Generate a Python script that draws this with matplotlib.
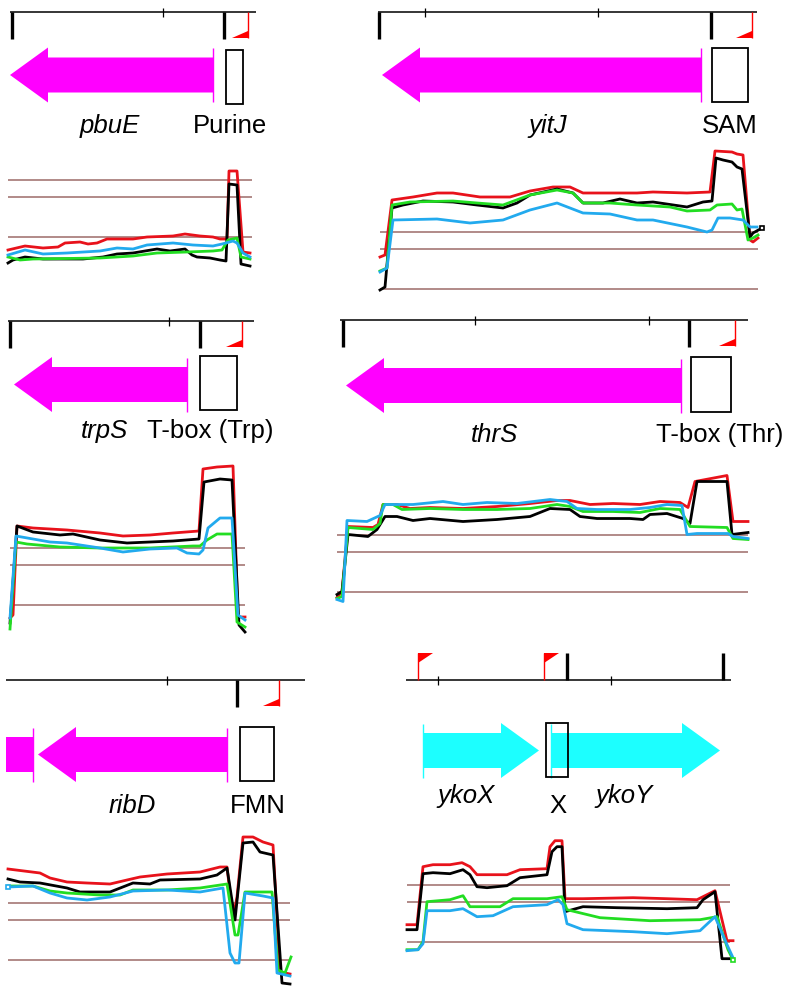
import matplotlib
matplotlib.use('Agg')
import matplotlib.pyplot as plt
from matplotlib.patches import FancyArrow, Rectangle, Polygon

FIG_W, FIG_H = 793, 992

# reference levels drawn in every coverage track
ref_levels = [0, 40, 57]
trace_colors = ['#e8121b', '#000000', '#22dd22', '#22aaee']

# ---- coverage traces: (position bin, signal) ----
pbue_red = [(8, -13), (25, -9), (43, -11), (58, -10), (65, -6), (80, -5), (88, -7), (97, -6), (107, -2),
            (133, -2), (147, 0), (173, 1), (185, 3), (200, 1), (213, 0), (220, -2), (227, -2), (229, 66),
            (237, 66), (243, -15), (250, -16)]
pbue_black = [(8, -26), (13, -23), (25, -20), (43, -22), (83, -22), (103, -20), (117, -17), (133, -16),
              (157, -12), (170, -14), (185, -12), (192, -18), (197, -20), (210, -21), (220, -23), (226, -24),
              (229, 53), (237, 52), (241, -27), (250, -29)]
pbue_green = [(8, -20), (20, -23), (33, -22), (100, -21), (133, -19), (157, -16), (187, -15), (213, -14),
              (222, -13), (228, -3), (237, -1), (241, -20), (250, -22)]
pbue_blue = [(8, -18), (25, -13), (43, -17), (67, -16), (100, -14), (117, -11), (133, -12), (147, -8),
             (173, -6), (193, -8), (213, -9), (222, -7), (233, -4), (237, -6), (243, -16), (250, -20)]

yitj_red = [(10, 32), (15, 34), (22, 89), (43, 92), (67, 96), (83, 96), (110, 92), (140, 92), (160, 98),
            (183, 102), (200, 102), (213, 96), (240, 96), (267, 96), (283, 97), (317, 96), (340, 97),
            (345, 138), (362, 137), (367, 135), (373, 134), (380, 49), (383, 47), (388, 51)]
yitj_black = [(10, -1), (15, 2), (22, 81), (33, 84), (53, 88), (83, 87), (107, 84), (133, 81), (147, 86),
              (160, 94), (187, 100), (203, 96), (213, 86), (233, 86), (250, 90), (267, 86), (283, 87),
              (317, 82), (333, 87), (342, 88), (346, 131), (353, 129), (362, 127), (367, 122), (372, 120),
              (380, 52), (383, 56), (392, 61)]
yitj_green = [(10, 18), (17, 21), (22, 84), (40, 87), (83, 88), (107, 86), (133, 84), (160, 94), (187, 99),
              (203, 96), (213, 86), (240, 86), (267, 84), (300, 82), (317, 78), (340, 79), (347, 84),
              (362, 85), (367, 79), (372, 80), (378, 49), (383, 51), (388, 54)]
yitj_blue = [(10, 17), (17, 21), (23, 69), (67, 70), (100, 66), (133, 69), (160, 79), (187, 86), (213, 76),
             (240, 75), (267, 69), (283, 69), (317, 62), (337, 57), (342, 59), (348, 71), (360, 71),
             (373, 69), (380, 62), (387, 62)]

trps_red = [(10, -13), (13, -10), (17, 79), (33, 77), (67, 75), (100, 72), (123, 69), (150, 70), (173, 72),
            (199, 74), (203, 136), (217, 138), (233, 139), (238, -12), (245, -12)]
trps_black = [(10, -18), (17, 79), (33, 73), (60, 70), (73, 71), (100, 65), (127, 62), (150, 63), (173, 64),
              (199, 66), (204, 123), (220, 126), (232, 125), (239, -20), (245, -27)]
trps_green = [(10, -24), (16, 63), (27, 61), (60, 58), (100, 57), (150, 57), (193, 59), (200, 59), (207, 65),
              (217, 71), (232, 71), (237, -17), (245, -22)]
trps_blue = [(10, -13), (16, 69), (33, 66), (50, 63), (67, 62), (100, 57), (123, 53), (150, 56), (177, 57),
             (187, 52), (199, 51), (203, 55), (208, 77), (220, 87), (232, 87), (238, -10), (245, -15)]

thrs_red = [(7, -6), (12, 0), (18, 65), (43, 64), (48, 67), (53, 87), (67, 87), (80, 83), (100, 84),
            (133, 83), (167, 85), (200, 88), (227, 91), (240, 91), (260, 87), (283, 88), (310, 87),
            (330, 90), (350, 89), (358, 84), (365, 110), (397, 116), (403, 70), (418, 70)]
thrs_black = [(7, -3), (12, 0), (18, 57), (38, 55), (47, 62), (55, 75), (67, 75), (83, 71), (100, 73),
              (133, 70), (167, 72), (200, 75), (220, 83), (240, 82), (250, 75), (267, 73), (300, 73),
              (313, 72), (320, 77), (337, 78), (353, 73), (360, 68), (367, 110), (397, 110), (402, 57),
              (418, 59)]
thrs_green = [(7, -7), (12, -5), (18, 64), (43, 62), (50, 68), (53, 87), (63, 87), (72, 82), (100, 83),
              (133, 82), (167, 82), (200, 83), (227, 87), (240, 85), (253, 80), (283, 80), (310, 79),
              (330, 83), (350, 82), (360, 65), (397, 64), (403, 53), (418, 52)]
thrs_blue = [(7, -8), (13, -10), (17, 71), (37, 70), (50, 76), (55, 87), (83, 87), (113, 90), (133, 87),
             (157, 89), (187, 88), (220, 92), (237, 90), (247, 83), (267, 82), (300, 82), (320, 84),
             (337, 87), (352, 86), (357, 57), (367, 58), (398, 58), (403, 55), (418, 53)]

ribd_red = [(8, 91), (40, 87), (50, 82), (67, 78), (87, 77), (110, 76), (127, 80), (140, 83), (167, 86),
            (200, 88), (220, 93), (227, 93), (233, 42), (237, 63), (243, 123), (253, 123), (263, 118),
            (273, 115), (280, -12), (290, -14)]
ribd_black = [(8, 81), (20, 78), (40, 77), (67, 72), (80, 68), (110, 68), (133, 77), (150, 76), (160, 80),
              (200, 81), (217, 85), (227, 92), (235, 40), (243, 117), (253, 118), (260, 108), (273, 105),
              (282, -23), (290, -24)]
ribd_green = [(8, 74), (33, 74), (50, 69), (67, 67), (100, 65), (120, 65), (133, 70), (167, 70), (200, 72),
              (227, 76), (235, 25), (238, 25), (245, 68), (272, 68), (278, -10), (285, -13), (291, 3)]
ribd_blue = [(8, 73), (33, 74), (50, 67), (67, 62), (87, 60), (110, 63), (133, 69), (167, 70), (200, 68),
             (223, 72), (230, 7), (235, -3), (239, -3), (245, 67), (263, 64), (273, 62), (277, -13), (290, -16)]

ykox_red = [(12, 17), (22, 17), (28, 75), (38, 77), (55, 77), (67, 79), (75, 75), (82, 67), (112, 67),
            (125, 72), (152, 73), (155, 95), (160, 101), (167, 101), (170, 43), (188, 43), (238, 44),
            (272, 43), (302, 42), (312, 47), (320, 51), (332, 1), (338, 1)]
ykox_black = [(12, 12), (22, 12), (28, 68), (38, 69), (55, 68), (68, 72), (75, 67), (82, 55), (92, 54),
              (112, 56), (125, 64), (152, 67), (157, 90), (162, 95), (167, 95), (170, 30), (188, 35),
              (222, 34), (272, 33), (302, 34), (308, 42), (320, 50), (327, -17), (335, -17)]
ykox_green = [(12, -8), (23, -8), (28, 0), (32, 40), (55, 42), (68, 46), (75, 35), (105, 35), (118, 43),
              (152, 43), (167, 45), (172, 32), (205, 24), (255, 21), (305, 22), (322, 25), (333, -8), (338, -18)]
ykox_blue = [(12, -9), (23, -8), (28, -2), (32, 31), (55, 31), (68, 33), (82, 25), (98, 26), (118, 35),
             (152, 37), (163, 42), (168, 37), (172, 18), (188, 12), (238, 10), (272, 8), (305, 11),
             (320, 25), (332, -3), (338, -16)]

# ---- gene maps (same bin units) ----
# genes: (start, end); start > end means leftward
pbue_genes, pbue_box, pbue_axis = [(213, 10)], (226, 243), (10, 256)
pbue_major, pbue_minor, pbue_flags = [12, 224], [163], [248]
yitj_genes, yitj_box, yitj_axis = [(331, 12)], (342, 378), (8, 387)
yitj_major, yitj_minor, yitj_flags = [9, 341], [55, 228], [382]
trps_genes, trps_box, trps_axis = [(187, 14)], (200, 237), (8, 254)
trps_major, trps_minor, trps_flags = [10, 200], [169], [242]
thrs_genes, thrs_box, thrs_axis = [(351, 16)], (361, 401), (10, 418)
thrs_major, thrs_minor, thrs_flags = [13, 359], [145, 319], [405]
ribd_genes, ribd_box, ribd_axis = [(227, 38)], (240, 274), (6, 305)
ribd_fragments = [(33, 6)]
ribd_major, ribd_minor, ribd_flags = [237], [167], [279]
ykox_genes, ykox_box, ykox_axis = [(28, 144), (156, 325)], (151, 173), (11, 336)
ykox_major, ykox_minor, ykox_flags = [172, 328], [43, 216], [23, 149]

pbue_labels = [('pbuE', 110, True), ('Purine', 230, False)]
yitj_labels = [('yitJ', 178, True), ('SAM', 360, False)]
trps_labels = [('trpS', 104, True), ('T-box (Trp)', 210, False)]
thrs_labels = [('thrS', 164, True), ('T-box (Thr)', 390, False)]
ribd_labels = [('ribD', 132, True), ('FMN', 258, False)]
ykox_labels = [('ykoX', 71, True), ('X', 163, False), ('ykoY', 229, True)]

MAGENTA = '#ff00ff'
CYAN = '#1cffff'
BROWN = '#9c6b68'

# layout of each panel in pixels
panels = [
    dict(left=0, width=265, top=0, height=150, line_y=12, arrow_y=75, box_y=(50, 104), text_y=133, text_dy=[0, 0],
         down=True, color=MAGENTA, genes=pbue_genes, frags=[], box=pbue_box, axis=pbue_axis,
         major=pbue_major, minor=pbue_minor, flags=pbue_flags, labels=pbue_labels,
         ttop=160, theight=120, base=237, ref=(8, 252), traces=[pbue_red, pbue_black, pbue_green, pbue_blue]),
    dict(left=370, width=400, top=0, height=150, line_y=12, arrow_y=75, box_y=(48, 102), text_y=133, text_dy=[0, 0],
         down=True, color=MAGENTA, genes=yitj_genes, frags=[], box=yitj_box, axis=yitj_axis,
         major=yitj_major, minor=yitj_minor, flags=yitj_flags, labels=yitj_labels,
         ttop=140, theight=160, base=289, ref=(10, 388), traces=[yitj_red, yitj_black, yitj_green, yitj_blue]),
    dict(left=0, width=265, top=309, height=145, line_y=12, arrow_y=75.5, box_y=(47, 101), text_y=129, text_dy=[0, 0],
         down=True, color=MAGENTA, genes=trps_genes, frags=[], box=trps_box, axis=trps_axis,
         major=trps_major, minor=trps_minor, flags=trps_flags, labels=trps_labels,
         ttop=455, theight=180, base=605, ref=(10, 245), traces=[trps_red, trps_black, trps_green, trps_blue]),
    dict(left=330, width=460, top=308, height=145, line_y=12, arrow_y=77.5, box_y=(49, 104), text_y=134, text_dy=[0, 0],
         down=True, color=MAGENTA, genes=thrs_genes, frags=[], box=thrs_box, axis=thrs_axis,
         major=thrs_major, minor=thrs_minor, flags=thrs_flags, labels=thrs_labels,
         ttop=465, theight=140, base=591.5, ref=(7, 418), traces=[thrs_red, thrs_black, thrs_green, thrs_blue]),
    dict(left=0, width=310, top=668, height=155, line_y=12, arrow_y=86.5, box_y=(59, 113), text_y=145, text_dy=[0, 0],
         down=True, color=MAGENTA, genes=ribd_genes, frags=ribd_fragments, box=ribd_box, axis=ribd_axis,
         major=ribd_major, minor=ribd_minor, flags=ribd_flags, labels=ribd_labels,
         ttop=830, theight=162, base=960, ref=(8, 290), traces=[ribd_red, ribd_black, ribd_green, ribd_blue]),
    dict(left=395, width=345, top=640, height=185, line_y=40, arrow_y=110.5, box_y=(83, 137), text_y=163, text_dy=[0, 10, 0],
         down=False, color=CYAN, genes=ykox_genes, frags=[], box=ykox_box, axis=ykox_axis,
         major=ykox_major, minor=ykox_minor, flags=ykox_flags, labels=ykox_labels,
         ttop=835, theight=135, base=941.7, ref=(12, 335), traces=[ykox_red, ykox_black, ykox_green, ykox_blue]),
]

# small open squares at some trace ends: (panel, trace, point)
end_marks = [(1, 1, -1), (4, 3, 0), (5, 2, -1)]

plt.rcParams['font.family'] = ['Liberation Sans', 'DejaVu Sans']
fig = plt.figure(figsize=(FIG_W / 100, FIG_H / 100), dpi=100)
fig.patch.set_facecolor('white')


def px_axes(left, top, width, height):
    ax = fig.add_axes([left / FIG_W, 1 - (top + height) / FIG_H, width / FIG_W, height / FIG_H])
    ax.set_xlim(0, width)
    ax.set_axis_off()
    return ax


def draw_map(p):
    ax = px_axes(p['left'], p['top'], p['width'], p['height'])
    ax.set_ylim(p['height'], 0)
    ly = p['line_y']
    ax.hlines(ly, *p['axis'], color='black', lw=1.1)
    sgn = 1 if p['down'] else -1
    ax.vlines(p['major'], ly, ly + sgn * 27, color='black', lw=2.4)
    ax.vlines(p['minor'], ly - 4.5, ly + 4.5, color='black', lw=0.9)
    for fx in p['flags']:
        if p['down']:
            ax.vlines(fx, ly, ly + 26, color='red', lw=1)
            tri = [(fx, ly + 19), (fx, ly + 26), (fx - 16, ly + 26)]
        else:
            ax.vlines(fx, ly - 27, ly, color='red', lw=1)
            tri = [(fx, ly - 27), (fx + 15, ly - 27), (fx, ly - 17)]
        ax.add_patch(Polygon(tri, closed=True, facecolor='red', edgecolor='none'))

    yc = p['arrow_y']
    for start, end in p['genes']:
        ax.add_patch(FancyArrow(start, yc, end - start, 0, width=35, head_width=55, head_length=38,
                                length_includes_head=True, facecolor=p['color'], edgecolor='none'))
        ax.vlines(start, yc - 27, yc + 27, color=p['color'], lw=1)
    for start, end in p['frags']:
        ax.add_patch(Rectangle((min(start, end), yc - 17.5), abs(end - start), 35,
                               facecolor=p['color'], edgecolor='none'))
        ax.vlines(start, yc - 27, yc + 27, color=p['color'], lw=1)

    bx0, bx1 = p['box']
    by0, by1 = p['box_y']
    ax.add_patch(Rectangle((bx0, by0), bx1 - bx0, by1 - by0, fill=False,
                           edgecolor='black', lw=1.3, zorder=3))

    for (text, x, italic), dy in zip(p['labels'], p['text_dy']):
        ax.text(x, p['text_y'] + dy, text, ha='center', va='baseline', fontsize=18.5,
                style='italic' if italic else 'normal')


def draw_tracks(p):
    ax = px_axes(p['left'], p['ttop'], p['width'], p['theight'])
    base = p['base']
    ax.set_ylim(base - (p['ttop'] + p['theight']), base - p['ttop'])
    ax.hlines(ref_levels, *p['ref'], color=BROWN, lw=1.1)
    lines = []
    for trace, color in zip(p['traces'], trace_colors):
        xs, ys = zip(*trace)
        lines.append(ax.plot(xs, ys, color=color, lw=2.0)[0])
    return ax


track_axes = []
for p in panels:
    draw_map(p)
    track_axes.append(draw_tracks(p))

for pi, ti, k in end_marks:
    x, y = panels[pi]['traces'][ti][k]
    track_axes[pi].plot([x], [y], marker='s', ms=3.5, mfc='white',
                        mec=trace_colors[ti], mew=1.2, ls='none')

fig.savefig('out.png', dpi=100, facecolor='white')
